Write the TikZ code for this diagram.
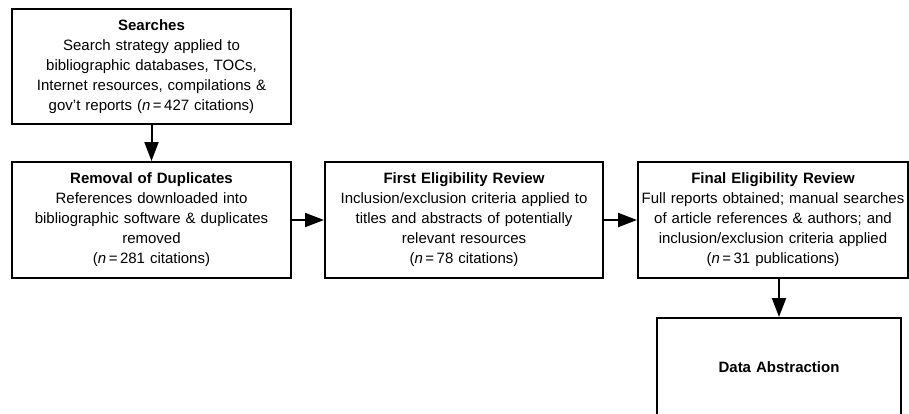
\documentclass[tikz,border=0pt]{standalone}
\usepackage{fontspec}
\setmainfont{Liberation Sans}
\usetikzlibrary{arrows.meta}
\begin{document}
\begin{tikzpicture}[x=1pt,y=-1pt,line join=miter,>={Triangle[length=19pt,width=14pt]},
    font=\fontsize{15}{20}\selectfont]
    \tikzset{stage/.style={draw,line width=2pt,align=center,inner sep=0pt,text width=#1-6pt,minimum width=#1}}
    \clip (0,0) rectangle (909,413);
    \def \boxh{116pt}
    \node[stage=279pt,minimum height=115pt] (search) at (151.5,66.5)
        {\textbf{Searches}\\ Search strategy applied to\\ bibliographic databases, TOCs,\\ Internet resources, compilations \&\\ gov't reports (\textit{n}\,=\,427 citations)};
    \node[stage=279pt,minimum height=\boxh] (dupl) at (151.5,220)
        {\textbf{Removal of Duplicates}\\ References downloaded into\\ bibliographic software \& duplicates\\ removed\\ (\textit{n}\,=\,281 citations)};
    \node[stage=278pt,minimum height=\boxh] (first) at (464,220)
        {\textbf{First Eligibility Review}\\ Inclusion/exclusion criteria applied to\\ titles and abstracts of potentially\\ relevant resources\\ (\textit{n}\,=\,78 citations)};
    \node[stage=270pt,minimum height=\boxh] (final) at (773,220)
        {\textbf{Final Eligibility Review}\\ \makebox[0pt]{Full reports obtained; manual searches}\\ of article references \& authors; and\\ inclusion/exclusion criteria applied\\ (\textit{n}\,=\,31 publications)};
    \node[stage=244pt,minimum height=98pt] (abstr) at (779,367) {\textbf{Data Abstraction}};
    % connectors
    \draw[->,line width=2pt] (dupl.north |- search.south) -- (dupl.north);
    \draw[->,line width=2pt] (dupl) -- (first);
    \draw[->,line width=2pt] (first) -- (final);
    \draw[->,line width=2pt] (abstr.north |- final.south) -- (abstr.north);
\end{tikzpicture}
\end{document}
